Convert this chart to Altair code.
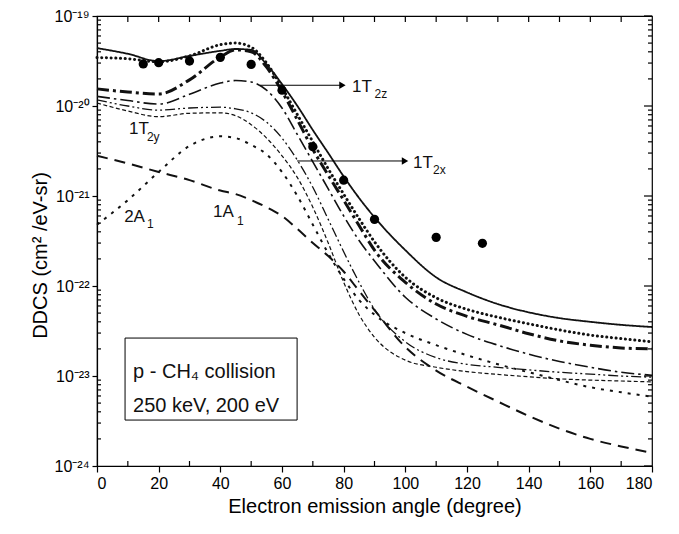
import altair as alt
import pandas as pd

# ---------------- data ----------------
angles = [0, 10, 20, 30, 40, 45, 50, 55, 60, 65, 70, 75, 80, 85, 90,
          100, 110, 120, 130, 140, 150, 160, 170, 180]

curve_solid = [4.4e-20, 3.8e-20, 3.15e-20, 3.6e-20, 4.1e-20, 4.3e-20, 4.2e-20, 2.9e-20,
               1.75e-20, 1.0e-20, 5.4e-21, 3.0e-21, 1.65e-21, 9.5e-22, 5.8e-22,
               2.5e-22, 1.25e-22, 8.5e-23, 6.3e-23, 5.1e-23, 4.4e-23, 4.0e-23, 3.7e-23, 3.5e-23]
curve_heavy_dot = [3.45e-20, 3.35e-20, 3.1e-20, 3.6e-20, 4.8e-20, 5.0e-20, 4.5e-20, 3.0e-20,
                   1.6e-20, 8.0e-21, 4.0e-21, 2.0e-21, 1.05e-21, 5.6e-22, 3.1e-22,
                   1.25e-22, 7.4e-23, 5.5e-23, 4.5e-23, 3.8e-23, 3.25e-23, 2.85e-23, 2.6e-23, 2.4e-23]
curve_heavy_dashdot = [1.55e-20, 1.43e-20, 1.36e-20, 1.95e-20, 3.5e-20, 4.2e-20, 4.0e-20, 2.7e-20,
                       1.45e-20, 7.0e-21, 3.3e-21, 1.7e-21, 9.0e-22, 4.7e-22, 2.5e-22,
                       1.1e-22, 6.3e-23, 4.6e-23, 3.7e-23, 2.95e-23, 2.45e-23, 2.2e-23, 2.05e-23, 2.0e-23]
curve_1t2z = [1.28e-20, 1.15e-20, 1.05e-20, 1.35e-20, 1.8e-20, 1.92e-20, 1.85e-20, 1.5e-20,
              9.5e-21, 4.8e-21, 2.4e-21, 1.2e-21, 6.0e-22, 3.2e-22, 1.9e-22,
              7.5e-23, 4.3e-23, 2.9e-23, 2.2e-23, 1.75e-23, 1.45e-23, 1.25e-23, 1.1e-23, 1.02e-23]
curve_1t2x = [1.17e-20, 1.0e-20, 9.0e-21, 9.5e-21, 9.7e-21, 9.3e-21, 8.4e-21, 6.6e-21,
              4.4e-21, 2.5e-21, 1.25e-21, 5.5e-22, 2.4e-22, 1.1e-22, 5.5e-23,
              2.4e-23, 1.6e-23, 1.35e-23, 1.25e-23, 1.17e-23, 1.1e-23, 1.05e-23, 1.0e-23, 9.7e-24]
curve_1t2y = [1.08e-20, 8.8e-21, 7.6e-21, 8.3e-21, 8.4e-21, 7.8e-21, 6.2e-21, 4.4e-21,
              2.8e-21, 1.6e-21, 7.5e-22, 3.0e-22, 1.1e-22, 4.8e-23, 2.7e-23,
              1.5e-23, 1.25e-23, 1.12e-23, 1.04e-23, 9.8e-24, 9.3e-24, 9.0e-24, 8.8e-24, 8.6e-24]
curve_2a1 = [4.8e-22, 9.0e-22, 1.85e-21, 3.6e-21, 4.6e-21, 4.4e-21, 3.7e-21, 2.9e-21,
             1.85e-21, 1.0e-21, 4.8e-22, 2.3e-22, 1.2e-22, 7.0e-23, 4.8e-23,
             3.0e-23, 2.2e-23, 1.7e-23, 1.35e-23, 1.1e-23, 9.0e-24, 7.5e-24, 6.6e-24, 5.9e-24]
curve_1a1 = [2.8e-21, 2.3e-21, 1.85e-21, 1.5e-21, 1.15e-21, 1.05e-21, 9.0e-22, 7.5e-22,
             6.0e-22, 4.3e-22, 3.0e-22, 2.15e-22, 1.45e-22, 8.8e-23, 5.4e-23,
             2.1e-23, 1.15e-23, 7.6e-24, 5.2e-24, 3.6e-24, 2.6e-24, 2.0e-24, 1.65e-24, 1.4e-24]

exp_angles = [15, 20, 30, 40, 50, 60, 70, 80, 90, 110, 125]
exp_ddcs = [2.93e-20, 3.03e-20, 3.16e-20, 3.47e-20, 2.9e-20, 1.5e-20,
            3.53e-21, 1.5e-21, 5.5e-22, 3.47e-22, 2.98e-22]

series_values = [curve_solid, curve_heavy_dot, curve_heavy_dashdot, curve_1t2z,
                 curve_1t2x, curve_1t2y, curve_2a1, curve_1a1]
series_dash = [[1, 0], [0.1, 4.6], [12, 4, 3, 4], [13, 4, 2.5, 4], [10, 3, 2, 3, 2, 3],
               [4, 2.5], [3, 6], [11, 7]]
series_width = [1.8, 3.0, 3.0, 1.6, 1.3, 1.2, 2.0, 2.0]
series_cap = ["butt", "round", "butt", "butt", "butt", "butt", "butt", "butt"]

# annotation labels: main text and subscripts (angle, DDCS value)
label_text = ["1T", "1T", "1T", "2A", "1A"]
label_deg = [82.7, 102.5, 10.4, 8.8, 37.6]
label_val = [1.43e-20, 2.05e-21, 4.89e-21, 5.14e-22, 5.85e-22]
sub_text = ["2z", "2x", "2y", "1", "1"]
sub_deg = [90.0, 109.0, 16.2, 16.2, 45.4]
sub_val = [1.23e-20, 1.75e-21, 4.08e-21, 4.41e-22, 4.76e-22]

arrow_start = [52.9, 64.9]
arrow_end = [79.6, 99.9]
arrow_val = [1.7e-20, 2.45e-21]

box_deg = [9.1, 64.9]
box_val = [2.64e-23, 3.24e-24]
box_lines = ["p - CH\u2084 collision", "250 keV, 200 eV"]
box_line_deg = [11.7, 11.7]
box_line_val = [9.5e-24, 3.98e-24]

decades = [1e-24, 1e-23, 1e-22, 1e-21, 1e-20, 1e-19]
x_major = [0, 20, 40, 60, 80, 100, 120, 140, 160, 180]
x_minor = [10, 30, 50, 70, 90, 110, 130, 150, 170]
x_top = list(range(10, 180, 10))
y_minor = [k * d for d in decades[:-1] for k in range(2, 10)]

# ---------------- tables ----------------
exp_df = pd.DataFrame({"deg": exp_angles, "val": exp_ddcs})
lab_df = pd.DataFrame({"t": label_text, "deg": label_deg, "val": label_val})
sub_df = pd.DataFrame({"t": sub_text, "deg": sub_deg, "val": sub_val})
arr_df = pd.DataFrame({"deg": arrow_start, "deg2": arrow_end, "val": arrow_val})
head_df = pd.DataFrame({"deg": arrow_end, "val": arrow_val})
box_df = pd.DataFrame({"deg": [box_deg[0]], "deg2": [box_deg[1]],
                       "val": [box_val[0]], "val2": [box_val[1]]})
boxtxt_df = pd.DataFrame({"t": box_lines, "deg": box_line_deg, "val": box_line_val})

FONT = "Liberation Sans"
xs = alt.Scale(domain=[0, 180], nice=False, zero=False)
ys = alt.Scale(type="log", domain=[1e-24, 1e-19], nice=False)

label_expr = ("datum.value < 5e-24 ? '10\u207b\u00b2\u2074' : datum.value < 5e-23 ? '10\u207b\u00b2\u00b3' : "
              "datum.value < 5e-22 ? '10\u207b\u00b2\u00b2' : datum.value < 5e-21 ? '10\u207b\u00b2\u00b9' : "
              "datum.value < 5e-20 ? '10\u207b\u00b2\u2070' : '10\u207b\u00b9\u2079'")

xaxis = alt.Axis(values=x_major, format="d", grid=False, tickSize=6, tickWidth=1.2,
                 tickColor="black", domainColor="black", domainWidth=1.2,
                 labelFont=FONT, labelFontSize=16, labelColor="black", labelPadding=3,
                 title="Electron emission angle (degree)", titleFont=FONT, titleFontSize=20,
                 titleFontWeight="normal", titleColor="black", titleY=40,
                 titleBaseline="middle")
yaxis = alt.Axis(values=decades, labelExpr=label_expr, grid=False, tickSize=5, tickWidth=1.2,
                 tickColor="black", domainColor="black", domainWidth=1.2,
                 labelFont=FONT, labelFontSize=16, labelColor="black", labelPadding=3,
                 title="DDCS (cm\u00b2 /eV-sr)", titleFont=FONT, titleFontSize=20,
                 titleFontWeight="normal", titleColor="black", titleX=-57, titleY=239,
                 titleAngle=270, titleAlign="center", titleBaseline="middle")


def X(field="deg"):
    return alt.X(f"{field}:Q", scale=xs, axis=xaxis)


def Y(field="val"):
    return alt.Y(f"{field}:Q", scale=ys, axis=yaxis)


line_layers = []
for vals, dash, w, cap in zip(series_values, series_dash, series_width, series_cap):
    df = pd.DataFrame({"deg": angles, "val": vals})
    line_layers.append(
        alt.Chart(df).mark_line(color="#111111", interpolate="monotone", strokeDash=dash,
                                strokeWidth=w, strokeCap=cap).encode(x=X(), y=Y())
    )

points = alt.Chart(exp_df).mark_circle(color="black", size=85, opacity=1).encode(x=X(), y=Y())

arrows = alt.Chart(arr_df).mark_rule(color="black", strokeWidth=1).encode(x=X(), x2="deg2:Q", y=Y())
heads = alt.Chart(head_df).mark_point(shape="triangle-right", filled=True, color="black",
                                      size=55, opacity=1).encode(x=X(), y=Y())

labels = alt.Chart(lab_df).mark_text(align="left", baseline="alphabetic", font=FONT,
                                     fontSize=17, color="#111111").encode(x=X(), y=Y(), text="t:N")
subs = alt.Chart(sub_df).mark_text(align="left", baseline="alphabetic", font=FONT,
                                   fontSize=12, color="#111111").encode(x=X(), y=Y(), text="t:N")

box = alt.Chart(box_df).mark_rect(filled=False, stroke="black", strokeWidth=1).encode(
    x=X(), x2="deg2:Q", y=Y(), y2="val2:Q")
box_text = alt.Chart(boxtxt_df).mark_text(align="left", baseline="alphabetic", font=FONT,
                                          fontSize=20, color="#111111").encode(x=X(), y=Y(), text="t:N")

# inward ticks (minor ticks and the mirrored top/right axes)
bot_minor = alt.Chart(pd.DataFrame({"deg": x_minor})).mark_rule(color="black", strokeWidth=1.2).encode(
    x=X(), y=alt.value(450), y2=alt.value(445))
top_ticks = alt.Chart(pd.DataFrame({"deg": x_top})).mark_rule(color="black", strokeWidth=1.2).encode(
    x=X(), y=alt.value(0), y2=alt.value(6))
left_minor = alt.Chart(pd.DataFrame({"val": y_minor})).mark_rule(color="black", strokeWidth=1.2).encode(
    y=Y(), x=alt.value(0), x2=alt.value(4))
right_minor = alt.Chart(pd.DataFrame({"val": y_minor})).mark_rule(color="black", strokeWidth=1.2).encode(
    y=Y(), x=alt.value(555), x2=alt.value(551))
right_major = alt.Chart(pd.DataFrame({"val": decades})).mark_rule(color="black", strokeWidth=1.2).encode(
    y=Y(), x=alt.value(555), x2=alt.value(547))

chart = alt.layer(
    *line_layers, points, arrows, heads, labels, subs, box, box_text,
    bot_minor, top_ticks, left_minor, right_minor, right_major
).properties(
    width=555, height=450,
    padding={"left": 97, "top": 16, "right": 27, "bottom": 68},
    autosize=alt.AutoSizeParams(type="none"),
    background="white",
).configure_view(stroke="black", strokeWidth=1.2)

chart.save("out.html", embed_options={"renderer": "svg", "actions": False})
